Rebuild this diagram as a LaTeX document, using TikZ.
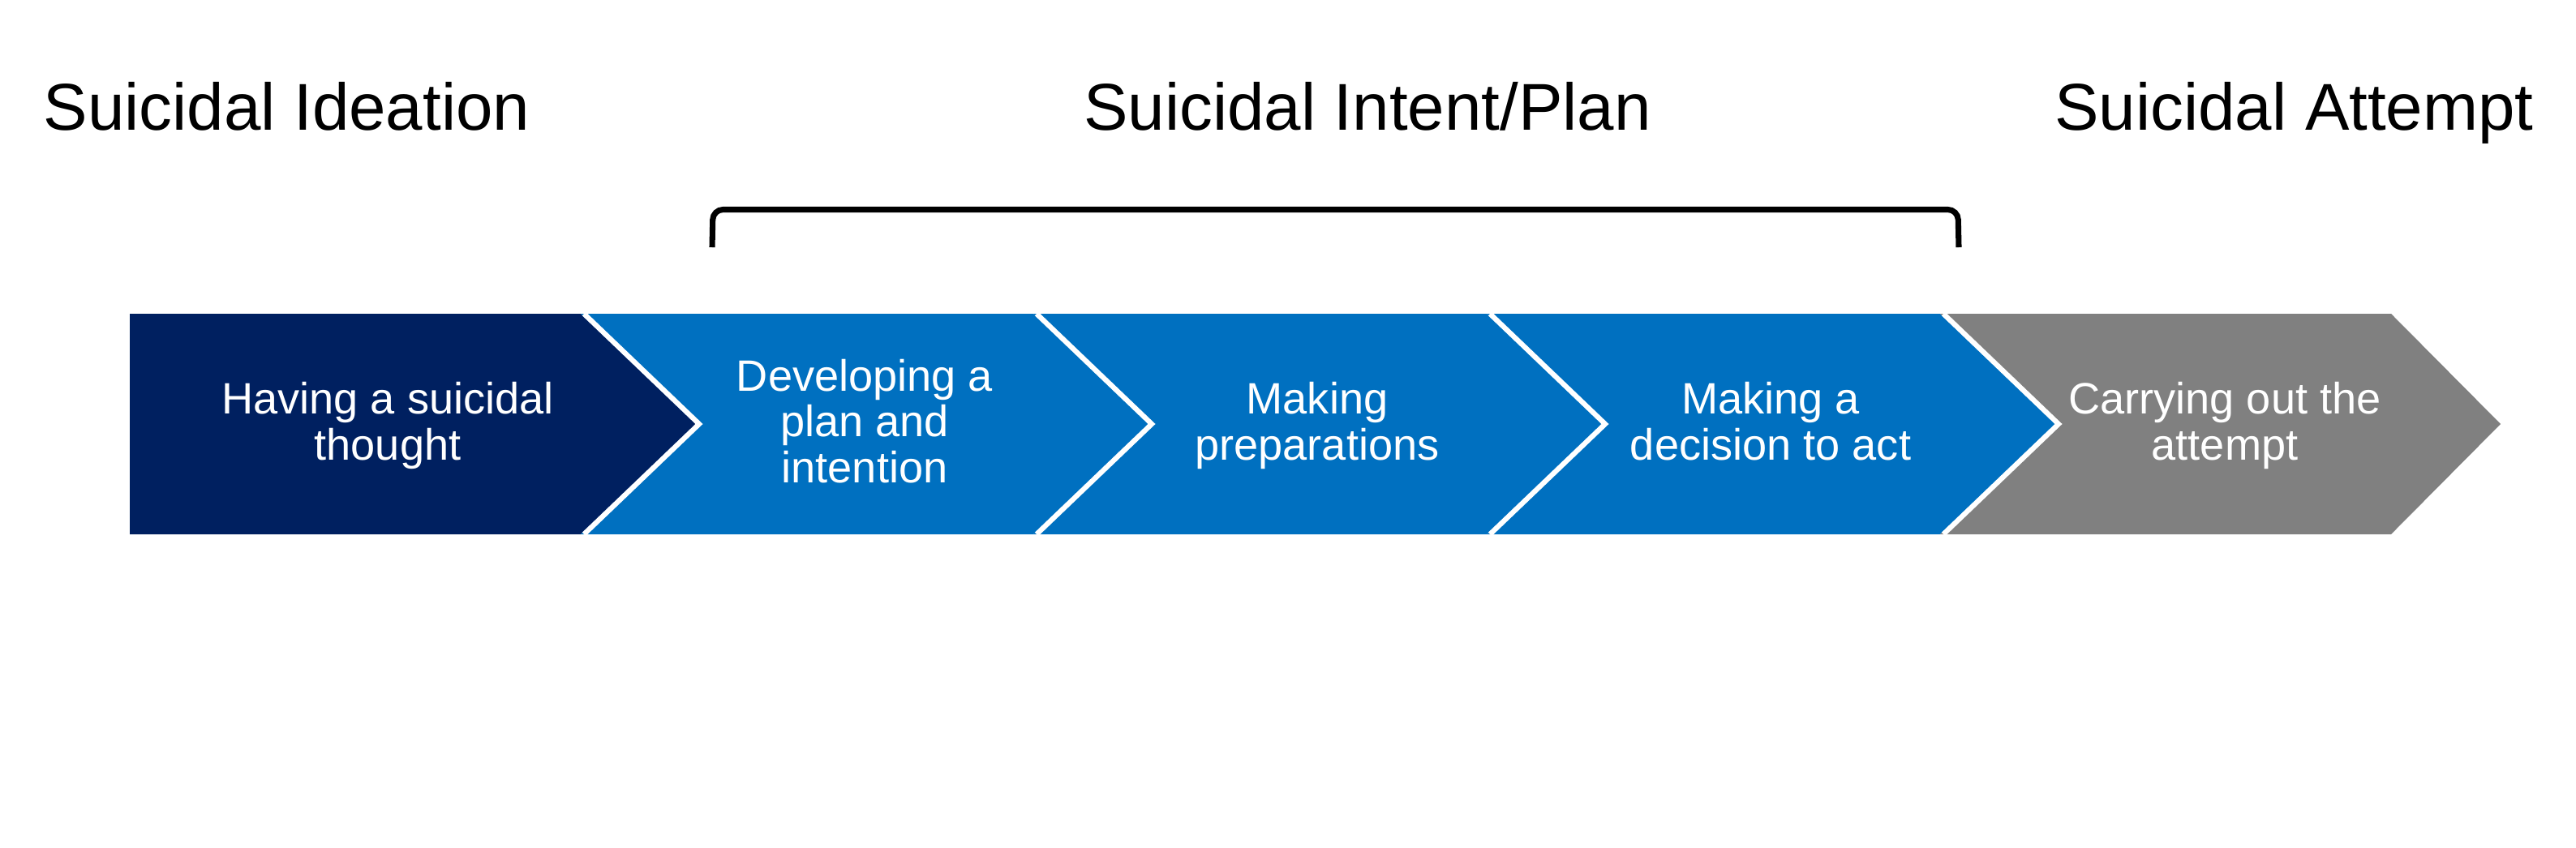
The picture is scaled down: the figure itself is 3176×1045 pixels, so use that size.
\documentclass[tikz,border=0pt]{standalone}
\usepackage{fontspec}
\newfontfamily\arialf{Liberation Sans}
\definecolor{navy}{RGB}{0,32,96}
\definecolor{pblue}{RGB}{0,112,192}
\definecolor{pgray}{RGB}{128,128,128}
\begin{document}
\begin{tikzpicture}[x=0.24pt,y=-0.24pt,
  title/.style={font=\arialf\fontsize{19.6}{23}\selectfont, anchor=base, inner sep=0pt},
  steptext/.style={font=\arialf\fontsize{13}{13.56}\selectfont, text=white, align=center, inner sep=0pt},
  sep/.style={draw=white, line width=1.5pt, line join=miter},
  brace/.style={draw=black, line width=1.7pt, rounded corners=3pt}]
\useasboundingbox (0,0) rectangle (3176,1045);
% chevrons
\fill[navy]  (160,387) -- (716,387) -- (858,523) -- (716,659) -- (160,659) -- cycle;
\fill[pblue] (716,387) -- (1274,387) -- (1416,523) -- (1274,659) -- (716,659) -- (858,523) -- cycle;
\fill[pblue] (1274,387) -- (1833,387) -- (1975,523) -- (1833,659) -- (1274,659) -- (1416,523) -- cycle;
\fill[pblue] (1833,387) -- (2392,387) -- (2534,523) -- (2392,659) -- (1833,659) -- (1975,523) -- cycle;
\fill[pgray] (2392,387) -- (2948,387) -- (3083,523) -- (2948,659) -- (2392,659) -- (2534,523) -- cycle;
% white separators
\draw[sep] (720,387) -- (862,523) -- (720,659);
\draw[sep] (1278,387) -- (1420,523) -- (1278,659);
\draw[sep] (1837,387) -- (1979,523) -- (1837,659);
\draw[sep] (2396,387) -- (2538,523) -- (2396,659);
% bracket
\draw[brace] (878,305) -- (879,258.5) -- (2414,258.5) -- (2415,305);
% titles
\node[title] (ideation) at (353.5,160) {Suicidal Ideation};
\node[title] (intent) at (1686,160) {Suicidal Intent/Plan};
\node[title] (attempt) at (2828.5,160) {Suicidal Attempt};
% step labels
\node[steptext] (s1) at (478,527.5) {\strut Having a suicidal\\\strut thought};
\node[steptext] (s2) at (1066,527.5) {\strut Developing a\\\strut plan and\\\strut intention};
\node[steptext] (s3) at (1624,527.5) {\strut Making\\\strut preparations};
\node[steptext] (s4) at (2183,527.5) {\strut Making a\\\strut decision to act};
\node[steptext] (s5) at (2743,527.5) {\strut Carrying out the\\\strut attempt};
\end{tikzpicture}
\end{document}
